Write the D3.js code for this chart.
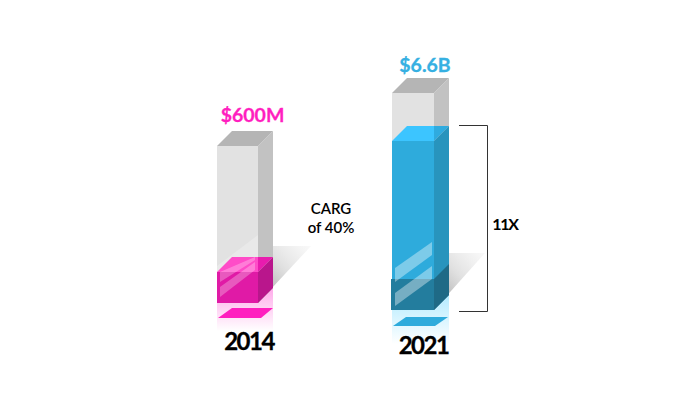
<!DOCTYPE html>
<html><head><meta charset="utf-8">
<script src="https://cdn.jsdelivr.net/npm/d3@7"></script>
<style>html,body{margin:0;background:#fff}svg{display:block}text{font-family:Lato,sans-serif}</style>
</head><body><svg id="c" width="700" height="400"></svg>
<script>
const categories = ["2014","2021"];
const values = [0.6, 6.6];
const columnTotals = [6.08, 8.69];
const valueLabels = ["$600M","$6.6B"];
const baseValue = 0.6;
const noteLines = ["CARG","of 40%"];
const multipleLabel = "11X";
const palettes = [
 {accent:"#ff1fbf",front:"#e01aa6",side:"#b9168c",top:"#ff4cc8",topSide:"#e81cae",fade:"#ffaaea",floor:"#ff1fbf"},
 {accent:"#36b0e2",front:"#2eabdc",side:"#2894bd",top:"#3cc5ff",topSide:"#2fabdf",fade:"#b4ebff",floor:"#2eabdc",
  baseFront:"#237d9e",baseSide:"#1f6a86"}
];
const svg = d3.select("#c");
const x = d3.scalePoint().domain(categories).range([217,392]);
const h = d3.scaleLinear().domain([0.6,6.6]).range([31,169]);
const W = [41,42], D = 15, floorY = [303,310];
const defs = svg.append("defs");
function grad(id,x1,y1,x2,y2,stops){
  const g=defs.append("linearGradient").attr("id",id).attr("x1",x1).attr("y1",y1).attr("x2",x2).attr("y2",y2);
  stops.forEach(s=>g.append("stop").attr("offset",s[0]).attr("stop-color",s[1]).attr("stop-opacity",s[2]));
}
grad("sh","0.1","0.9","1","0",[[0,"#999",.9],[.5,"#ccc",.6],[1,"#eee",.35]]);
categories.forEach((c,i)=>{
  grad("fd"+i,"0","0","0","1",[[0,palettes[i].fade,1],[1,palettes[i].fade,0]]);
});
const poly=(pts,fill,op)=>svg.append("polygon").attr("points",pts.map(p=>p.join(",")).join(" ")).attr("fill",fill).attr("opacity",op==null?1:op);
const gloss=[[[3,-31],[38,-46],[38,-43],[3,-21]],[[3,-16],[38,-41],[38,-33],[3,-6]]];
categories.forEach((c,i)=>{
  const l=x(c), w=W[i], r=l+w, b=floorY[i], p=palettes[i];
  const yT=b-h(columnTotals[i]), yV=b-h(values[i]), yB=b-h(baseValue);
  // shadow
  poly([[r,b-57],[r+(i?36:38)+D,b-57],[r,b]],"url(#sh)");
  // reflection
  const fadeEnd=i?34:28;
  poly([[l,b],[r,b],[r+D,b-D],[r+D,b+fadeEnd],[l,b+fadeEnd]],"url(#fd"+i+")");
  poly([[l+1,b+15+i],[l+15-i,b+5+2*i],[r+D-i,b+5+2*i],[r+3-2*i,b+15+i]],p.floor);
  // grey column
  poly([[l,yT],[r,yT],[r,b],[l,b]],"#e2e2e2");
  poly([[r,yT],[r+D,yT-D],[r+D,b-D],[r,b]],"#c2c2c2");
  poly([[l,yT],[l+D,yT-D],[r+D,yT-D],[r,yT]],"#b5b5b5");
  if(i===0) poly([[l,b-37],[r,b-68],[r,b-46],[l,b-31]],"#fff",.25);
  // value
  poly([[l,yV],[r,yV],[r,b],[l,b]],p.front);
  poly([[r,yV],[r+D,yV-D],[r+D,b-D],[r,b]],p.side);
  poly([[l,yV],[l+D,yV-D],[r,yV-D],[r,yV]],p.top);
  poly([[r,yV],[r,yV-D],[r+D,yV-D]],p.topSide);
  if(i===1){
    poly([[l-1,yB],[r,yB],[r,b],[l-1,b]],p.baseFront);
    poly([[r,yB],[r+D,yB-D],[r+D,b-D],[r,b]],p.baseSide);
    [[[3,-42],[40,-68],[40,-55],[3,-28]],[[3,-17],[40,-44],[40,-31],[3,-4]]].forEach(g=>
      poly(g.map(q=>[l+q[0],b+q[1]]),"#fff",.38));
  } else {
    gloss.forEach(g=>poly(g.map(q=>[l+q[0],b+q[1]]),"#fff",.28));
  }
  svg.append("text").attr("x",l+(i?33:35.5)).attr("y",yT-(i?21:24)).attr("text-anchor","middle")
    .attr("font-size",19.5).attr("font-weight",700).attr("fill",p.accent).attr("stroke",p.accent).attr("stroke-width",.3).text(valueLabels[i]);
  svg.append("text").attr("x",l+(i?31.5:32)).attr("y",b+(i?44:47)).attr("text-anchor","middle")
    .attr("font-size",24).attr("letter-spacing",-1.5).attr("font-weight",700).attr("fill","#000").attr("stroke","#000").attr("stroke-width",.3).text(c);
});
// annotations
const br=d3.path(), bl=x("2021"), bb=floorY[1], bTop=bb-h(values[1])-15;
br.moveTo(bl+67,bTop-.5);br.lineTo(bl+95.5,bTop-.5);br.lineTo(bl+95.5,bb+1.5);br.lineTo(bl+67,bb+1.5);
svg.append("path").attr("d",br.toString()).attr("fill","none").attr("stroke","#333").attr("stroke-width",1);
svg.append("text").attr("x",505).attr("y",230).attr("text-anchor","middle").attr("font-size",16).attr("letter-spacing",-1.2).attr("font-weight",700).attr("fill","#000").text(multipleLabel);
noteLines.forEach((t,i)=>svg.append("text").attr("x",331).attr("y",214+i*18.7).attr("text-anchor","middle").attr("font-size",15).attr("font-weight",600).attr("fill","#000").text(t));
</script></body></html>
